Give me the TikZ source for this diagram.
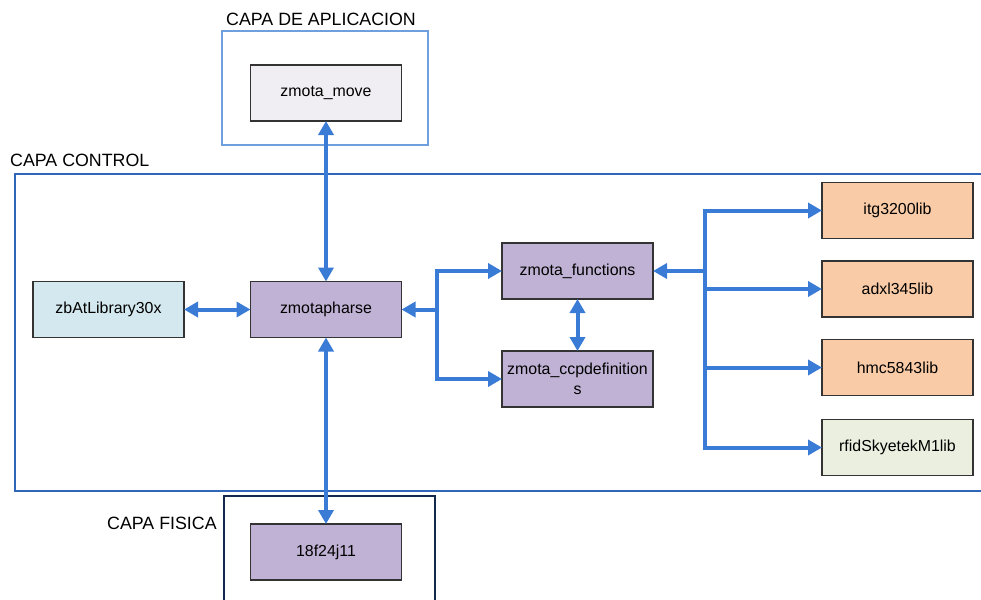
\documentclass[tikz,border=0pt]{standalone}
\usepackage{fontspec}
\setmainfont{Liberation Sans}
\usetikzlibrary{arrows.meta}
\definecolor{arrowblue}{HTML}{3A7BD5}
\definecolor{applayer}{HTML}{6F9FDC}
\definecolor{ctrllayer}{HTML}{2F66B7}
\definecolor{physlayer}{HTML}{13294B}
\definecolor{greyfill}{HTML}{F0EEF3}
\definecolor{lavender}{HTML}{C0B2D4}
\definecolor{cyanfill}{HTML}{D4E9EF}
\definecolor{peach}{HTML}{F9CBA6}
\definecolor{sage}{HTML}{EBEFDF}
\tikzset{
  module/.style={draw=black!80, line width=1.2pt, minimum width=151pt, minimum height=56pt,
    inner sep=0pt, outer sep=0pt, align=center, font=\fontsize{15.9}{20}\selectfont},
  layerlabel/.style={anchor=west, inner sep=0pt, font=\fontsize{17.8}{20}\selectfont},
  link/.style={draw=arrowblue, line width=4pt},
  tip/.style={-{Triangle[length=14pt,width=15pt]}},
  tips/.style={{Triangle[length=14pt,width=15pt]}-{Triangle[length=14pt,width=15pt]}},
}
\begin{document}
\begin{tikzpicture}[x=1pt,y=-1pt]
\useasboundingbox (0,0) rectangle (981,599);
\clip (0,0) rectangle (981,599);

% layer frames
\draw[applayer, line width=1.8pt] (222,31) rectangle (428,145);
\draw[ctrllayer, line width=1.8pt] (15,174) rectangle (1000,491);
\draw[physlayer, line width=1.8pt] (224,610) -- (224,496) -- (435,496) -- (435,610);

\node[layerlabel] (lapp) at (226,19) {CAPA DE APLICACION};
\node[layerlabel] (lctrl) at (10,160) {CAPA CONTROL};
\node[layerlabel] (lphys) at (107,523) {CAPA FISICA};

% modules
\node[module, fill=greyfill] (move) at (326,93) {zmota\_move};
\node[module, fill=lavender] (parse) at (326,309.5) {zmotapharse};
\node[module, fill=cyanfill] (zbat) at (108.5,309.5) {zbAtLibrary30x};
\node[module, fill=lavender] (func) at (577.5,271) {zmota\_functions};
\node[module, fill=lavender] (ccp) at (577.5,379) {zmota\_ccpdefinition\\s};
\node[module, fill=peach] (itg) at (897.5,210.5) {itg3200lib};
\node[module, fill=peach] (adxl) at (897.5,289) {adxl345lib};
\node[module, fill=peach] (hmc) at (897.5,367.5) {hmc5843lib};
\node[module, fill=sage] (rfid) at (897.5,447.5) {rfidSkyetekM1lib};
\node[module, fill=lavender] (pic) at (326,552) {18f24j11};

% junction points
\coordinate (jl) at (437,309.5);
\coordinate (jr) at (705,271);

% connectors
\draw[link, tips] (move.south) -- (parse.north);
\draw[link, tips] (parse.south) -- (pic.north);
\draw[link, tips] (zbat.east) -- (parse.west);
\draw[link, tip] (jl) -- (parse.east);
\draw[link, tip] (jl) |- (func.west);
\draw[link, tip] (jl) |- (ccp.west);
\draw[link, tips] (func.south) -- (ccp.north);
\draw[link, tip] (jr) -- (func.east);
\draw[link, tip] (jr) |- (itg.west);
\draw[link, tip] (jr) |- (adxl.west);
\draw[link, tip] (jr) |- (hmc.west);
\draw[link, tip] (jr) |- (rfid.west);
\end{tikzpicture}
\end{document}
